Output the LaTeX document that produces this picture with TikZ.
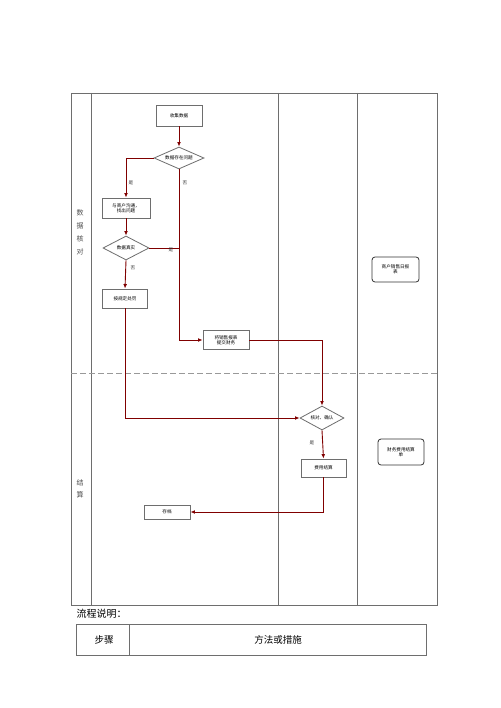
\documentclass[tikz,border=0pt]{standalone}
\usepackage{fontspec}
\setmainfont{Noto Sans CJK SC}
\usetikzlibrary{shapes.geometric,arrows.meta}
\definecolor{flowred}{RGB}{128,0,0}
\definecolor{tablegray}{RGB}{110,110,110}
\begin{document}
\begin{tikzpicture}[x=1pt,y=-1pt,
  tiny/.style={font=\fontsize{4.6}{5.4}\selectfont},
  procbox/.style={draw=tablegray,line width=0.8pt,rectangle,inner sep=0pt,tiny,align=center},
  decision/.style={draw=tablegray,line width=0.8pt,diamond,aspect=2.3,inner sep=0pt,tiny,align=center},
  docbox/.style={draw=black!80,line width=0.8pt,rectangle,rounded corners=3pt,inner sep=0pt,tiny,align=center},
  flow/.style={draw=flowred,line width=0.9pt},
  flowarrow/.style={flow,-{Latex[length=4.5pt,width=3.8pt]}},
  grid/.style={draw=tablegray,line width=0.8pt},
  lanelabel/.style={font=\fontsize{7}{8}\selectfont,text=black!70},
  flowlabel/.style={tiny,text=black!80}
]
\useasboundingbox (0,0) rectangle (500,708);
\fill[white] (0,0) rectangle (500,708);

% swimlane table
\draw[grid] (71,93) rectangle (437,605);
\draw[grid] (91,93) -- (91,605);
\draw[grid] (278,93) -- (278,605);
\draw[grid] (357,93) -- (357,605);
\draw[draw=gray!80,line width=0.5pt,dash pattern=on 6pt off 3pt] (71,373) -- (437,373);

% lane labels
\node[lanelabel] (l1) at (80,213) {数};
\node[lanelabel] (l2) at (80,226) {据};
\node[lanelabel] (l3) at (80,239) {核};
\node[lanelabel] (l4) at (80,252) {对};
\node[lanelabel] (l5) at (80,483) {结};
\node[lanelabel] (l6) at (80,495) {算};

% nodes
\node[procbox,minimum width=46pt,minimum height=21pt] (b1) at (179,115.5) {收集数据};
\node[decision,minimum width=50pt,minimum height=22pt] (d1) at (179,158) {数据存在问题};
\node[procbox,minimum width=48pt,minimum height=20pt] (b2) at (126,208) {与商户沟通，\\找出问题};
\node[decision,minimum width=46pt,minimum height=24pt] (d2) at (126,248) {数据真实};
\node[procbox,minimum width=45pt,minimum height=19pt] (b4) at (125,298.5) {按规定处罚};
\node[procbox,minimum width=46pt,minimum height=19pt] (b5) at (226,340) {将销售报表\\提交财务};
\node[decision,minimum width=44pt,minimum height=24pt] (d3) at (322,418) {核对、确认};
\node[procbox,minimum width=45pt,minimum height=18pt] (b6) at (323.5,468) {费用结算};
\node[procbox,minimum width=46pt,minimum height=14pt] (b7) at (167,512) {存档};
\node[docbox,minimum width=47pt,minimum height=25pt] (r1) at (395.5,269.5) {商户销售日报\\表};
\node[docbox,minimum width=46pt,minimum height=26pt] (r2) at (401,452) {财务费用结算\\单};

% connectors
\draw[flowarrow] (b1.south) -- (d1.north);
\draw[flowarrow] (d1.west) -| (b2.north);
\coordinate (c1) at (d1.south |- b5.west);
\draw[flowarrow] (d1.south) -- (c1) -- (b5.west);
\draw[flowarrow] (b2.south) -- (d2.north);
\coordinate (c2) at (d2.east -| d1.south);
\draw[flow] (d2.east) -- (c2);
\draw[flowarrow] (d2.south) -- (b4.north);
\draw[flowarrow] (b4.south) |- (d3.west);
\draw[flowarrow] (b5.east) -| (d3.north);
\draw[flowarrow] (d3.south) -- (b6.north);
\draw[flowarrow] (b6.south) |- (b7.east);

% connector labels
\node[flowlabel] (t1) at (131,183) {是};
\node[flowlabel] (t2) at (185,183) {否};
\node[flowlabel] (t3) at (171,250) {是};
\node[flowlabel] (t4) at (133,268) {否};
\node[flowlabel] (t5) at (312,443) {是};

% explanation
\node[font=\fontsize{10}{12}\selectfont,anchor=west] (ex) at (73,614) {流程说明：};
\draw[grid] (76,624) rectangle (426,655);
\draw[grid] (129,624) -- (129,655);
\node[font=\fontsize{9.5}{11}\selectfont] (s1) at (104,640) {步骤};
\node[font=\fontsize{9.5}{11}\selectfont] (s2) at (278,640) {方法或措施};
\end{tikzpicture}
\end{document}
